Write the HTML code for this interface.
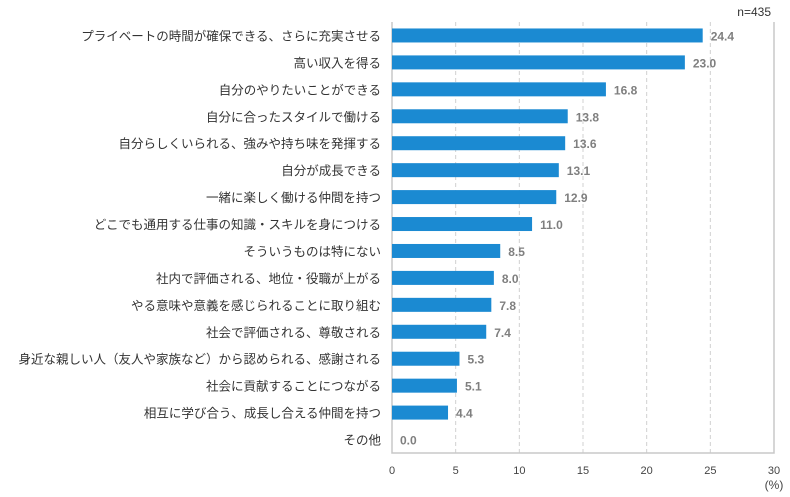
<!DOCTYPE html>
<html><head><meta charset="utf-8"><style>
body{margin:0;background:#fff;}
svg text{font-family:"Liberation Sans","Noto Sans CJK JP",sans-serif;}
</style></head><body>
<svg id="c" width="790" height="492" xmlns="http://www.w3.org/2000/svg">
<text x="771" y="16" font-size="12" fill="#333" text-anchor="end">n=435</text>
<g id="grid"></g><g id="bars"></g><g id="labels"></g><g id="ticks"></g>
<text x="774" y="489" font-size="12" fill="#444" text-anchor="middle">(%)</text>
</svg>
<script>
const categories=["プライベートの時間が確保できる、さらに充実させる","高い収入を得る","自分のやりたいことができる","自分に合ったスタイルで働ける","自分らしくいられる、強みや持ち味を発揮する","自分が成長できる","一緒に楽しく働ける仲間を持つ","どこでも通用する仕事の知識・スキルを身につける","そういうものは特にない","社内で評価される、地位・役職が上がる","やる意味や意義を感じられることに取り組む","社会で評価される、尊敬される","身近な親しい人（友人や家族など）から認められる、感謝される","社会に貢献することにつながる","相互に学び合う、成長し合える仲間を持つ","その他"];
const values=[24.4,23.0,16.8,13.8,13.6,13.1,12.9,11.0,8.5,8.0,7.8,7.4,5.3,5.1,4.4,0.0];
const ticks=[0,5,10,15,20,25,30];
const NS="http://www.w3.org/2000/svg";
const x0=392,x1=774,xmax=30,plotTop=22,plotBot=453;
const step=(plotBot-plotTop)/categories.length;
const xs=v=>x0+(x1-x0)*v/xmax;
const yc=i=>plotTop+step*(i+0.5);
function mk(t,a,p){const e=document.createElementNS(NS,t);for(const k in a)e.setAttribute(k,a[k]);document.getElementById(p).appendChild(e);return e;}
ticks.forEach(t=>{
 if(t>0&&t<xmax){const l=mk('line',{x1:xs(t),x2:xs(t),y1:plotTop,y2:plotBot,stroke:'#d0d0d0','stroke-dasharray':'4,3'},'grid');
 
 }
 const tx=mk('text',{x:xs(t),y:plotBot+21,'font-size':11,fill:'#444','text-anchor':'middle'},'ticks');tx.textContent=t;
 
 
});
const ax=mk('path',{d:`M${x0},${plotTop}V${plotBot}H${x1}V${plotTop}`,fill:'none',stroke:'#c8c8c8','stroke-width':1.5},'grid');


categories.forEach((c,i)=>{
 const y=yc(i);
 const b=mk('rect',{x:x0,y:y-7,width:xs(values[i])-x0,height:14,fill:'#1b8ad2'},'bars');
 
 
 const v=mk('text',{x:xs(values[i])+8,y:y+5,'font-size':12,'font-weight':'bold',fill:'#7f7f7f'},'labels');v.textContent=values[i].toFixed(1);
 
 
 const l=mk('text',{x:381,y:y+5,'font-size':12.5,fill:'#333','text-anchor':'end'},'labels');l.textContent=c;
 
 
});
</script>
</body></html>
